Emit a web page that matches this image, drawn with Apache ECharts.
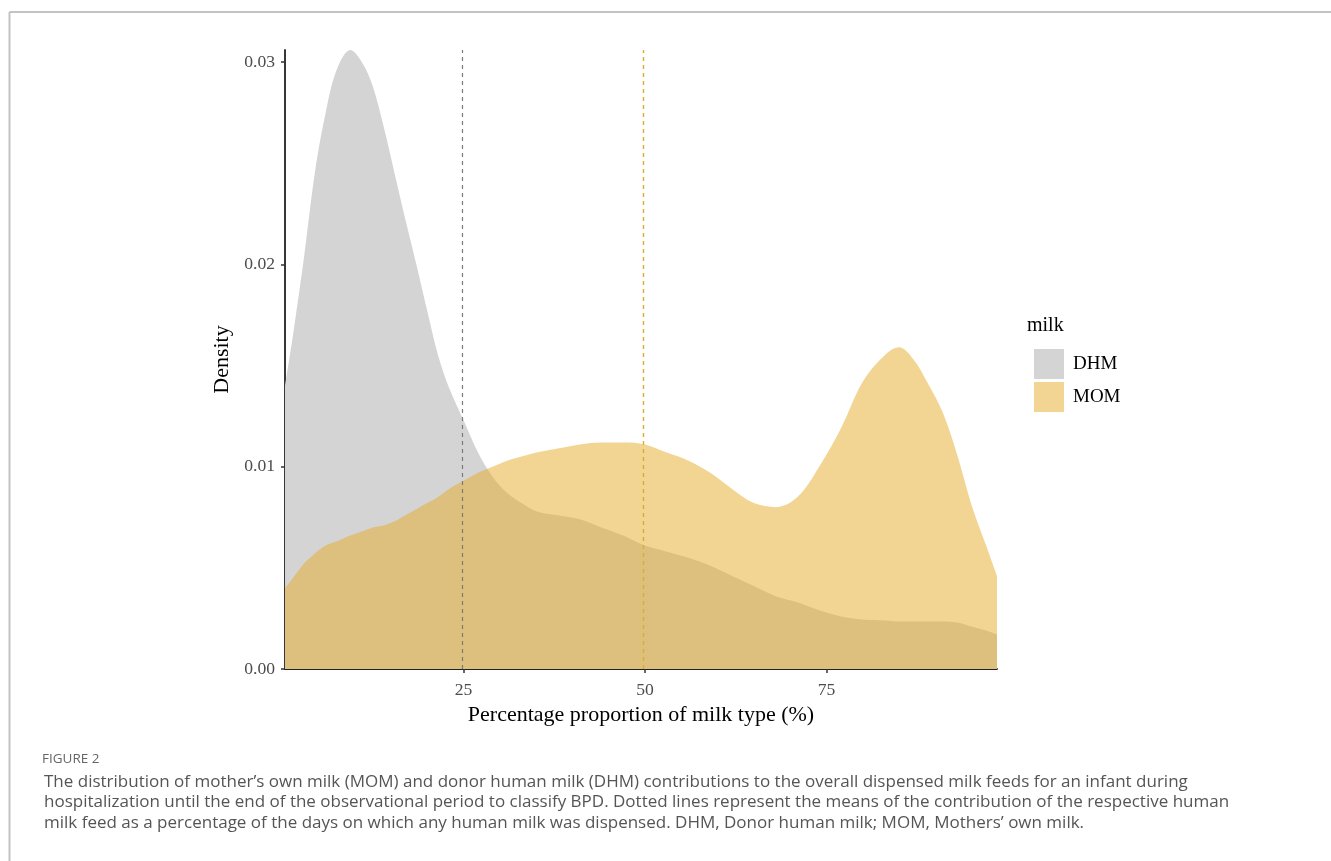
<!DOCTYPE html>
<html>
<head>
<meta charset="utf-8">
<script src="https://cdn.jsdelivr.net/npm/echarts@6/dist/echarts.min.js"></script>
<style>
html,body{margin:0;padding:0;background:#fff;}
#chart{width:1331px;height:861px;}
</style>
</head>
<body>
<div id="chart"></div>
<script>
// ---- data ----
const xGrid = [0.4, 1.5, 3, 4.5, 6, 7.5, 9.4, 11, 12.5, 14, 15.5, 17, 18.5, 20, 21.5, 23, 25, 27, 29, 31, 33, 35, 38, 41, 44, 47, 50, 53, 56, 59, 62, 65, 68, 71, 74, 77, 80, 83, 85, 87, 89, 91, 93, 95, 97, 98.5];
const dhmDensity = [0.0140, 0.0165, 0.0203, 0.0245, 0.0275, 0.0296, 0.0306, 0.0300, 0.0288, 0.0268, 0.0245, 0.0222, 0.0200, 0.0177, 0.0155, 0.0139, 0.0123, 0.0107, 0.0095, 0.0087, 0.0082, 0.0078, 0.0076, 0.0074, 0.0070, 0.0066, 0.0061, 0.0058, 0.0055, 0.0051, 0.0046, 0.0041, 0.0036, 0.0033, 0.0029, 0.0026, 0.00245, 0.0024, 0.00235, 0.00235, 0.00235, 0.00235, 0.0023, 0.0021, 0.0019, 0.0017];
const momDensity = [0.0040, 0.0045, 0.0052, 0.0057, 0.0061, 0.0063, 0.0066, 0.0068, 0.0070, 0.0071, 0.0073, 0.0076, 0.0079, 0.0082, 0.0085, 0.0089, 0.0093, 0.0097, 0.0100, 0.0103, 0.0105, 0.0107, 0.0109, 0.0111, 0.0112, 0.0112, 0.0111, 0.0107, 0.0103, 0.0097, 0.0089, 0.0082, 0.0080, 0.0085, 0.0100, 0.0119, 0.0142, 0.0155, 0.0159, 0.0153, 0.0141, 0.0127, 0.0106, 0.0081, 0.0061, 0.0046];
const seriesNames = ['DHM', 'MOM'];
const meanValues = [24.8, 49.7];
const xTicks = [25, 50, 75];
const yTicks = [0, 0.01, 0.02, 0.03];
const xTitle = 'Percentage proportion of milk type (%)';
const yTitle = 'Density';
const legendTitle = 'milk';
const captionHead = 'FIGURE 2';
const captionLines = [
  'The distribution of mother\u2019s own milk (MOM) and donor human milk (DHM) contributions to the overall dispensed milk feeds for an infant during',
  'hospitalization until the end of the observational period to classify BPD. Dotted lines represent the means of the contribution of the respective human',
  'milk feed as a percentage of the days on which any human milk was dispensed. DHM, Donor human milk; MOM, Mothers\u2019 own milk.'
];

const serif = '"Liberation Serif", "DejaVu Serif", serif';
const sans = '"Open Sans", "Noto Sans", sans-serif';
const dhmFill = '#d4d4d4';
const momFill = 'rgba(229,171,37,0.5)';
const momSwatch = '#f2d592';

const chart = echarts.init(document.getElementById('chart'), null, {renderer: 'canvas'});

const captionGraphics = [
  {type: 'line', shape: {x1: 9.5, y1: 12, x2: 1331, y2: 12}, style: {stroke: '#c2c2c2', lineWidth: 2}, silent: true},
  {type: 'line', shape: {x1: 9.5, y1: 12, x2: 9.5, y2: 861}, style: {stroke: '#c2c2c2', lineWidth: 2}, silent: true},
  {type: 'text', x: 42, y: 759, style: {text: captionHead, font: '400 13.5px ' + sans, fill: '#666', textVerticalAlign: 'middle'}},
  {type: 'text', x: 1027, y: 326, style: {text: legendTitle, font: '20px ' + serif, fill: '#000', textVerticalAlign: 'middle'}}
].concat(captionLines.map((t, i) => ({
  type: 'text', x: 44, y: 782 + i * 20.6,
  style: {text: t, font: '17px ' + sans, fill: '#555', textVerticalAlign: 'middle'}
})));

const option = {
  animation: false,
  backgroundColor: '#fff',
  grid: {left: 285, right: 334, top: 50, bottom: 192},
  xAxis: {
    type: 'value', min: 0.4, max: 98.5,
    name: xTitle, nameLocation: 'middle', nameGap: 35,
    nameTextStyle: {fontFamily: serif, fontSize: 22, color: '#000'},
    axisLine: {show: true, onZero: false, lineStyle: {color: '#222', width: 1.8}},
    axisTick: {show: true, length: 4, customValues: xTicks, lineStyle: {color: '#333', width: 1.5}},
    axisLabel: {customValues: xTicks, fontFamily: serif, fontSize: 17.6, color: '#4d4d4d', margin: 12},
    splitLine: {show: false}
  },
  yAxis: {
    type: 'value', min: 0, max: 0.0306,
    name: yTitle, nameLocation: 'middle', nameGap: 33, nameRotate: 90,
    nameTextStyle: {fontFamily: serif, fontSize: 22, color: '#000'},
    axisLine: {show: true, onZero: false, lineStyle: {color: '#222', width: 1.8}},
    axisTick: {show: true, length: 4, customValues: yTicks, lineStyle: {color: '#333', width: 1.5}},
    axisLabel: {customValues: yTicks, fontFamily: serif, fontSize: 17.6, color: '#4d4d4d', margin: 10,
      formatter: v => v.toFixed(2)},
    splitLine: {show: false}
  },
  legend: {
    orient: 'vertical', left: 1029, top: 344,
    itemWidth: 30, itemHeight: 30, itemGap: 3,
    icon: 'rect',
    textStyle: {fontFamily: serif, fontSize: 19, color: '#000', padding: [0, 0, 0, 4]},
    data: [
      {name: seriesNames[0], itemStyle: {color: dhmFill}},
      {name: seriesNames[1], itemStyle: {color: momSwatch}}
    ]
  },
  series: [
    {
      name: seriesNames[0], type: 'line', smooth: 0.35, showSymbol: false, z: 2,
      data: xGrid.map((x, i) => [x, dhmDensity[i]]),
      lineStyle: {width: 0, color: dhmFill}, itemStyle: {color: dhmFill},
      areaStyle: {color: dhmFill, opacity: 1}
    },
    {
      name: seriesNames[1], type: 'line', smooth: 0.35, showSymbol: false, z: 3,
      data: xGrid.map((x, i) => [x, momDensity[i]]),
      lineStyle: {width: 0, color: momSwatch}, itemStyle: {color: momSwatch},
      areaStyle: {color: momFill, opacity: 1},
      markLine: {
        silent: true, symbol: ['none', 'none'], label: {show: false}, z: 5,
        data: [
          {xAxis: meanValues[0], lineStyle: {color: '#7a7a7a', type: [4, 4], width: 1.2}},
          {xAxis: meanValues[1], lineStyle: {color: '#e0ab2a', type: [4, 4], width: 1.4}}
        ]
      }
    }
  ],
  graphic: captionGraphics
};
chart.setOption(option);
</script>
</body>
</html>
